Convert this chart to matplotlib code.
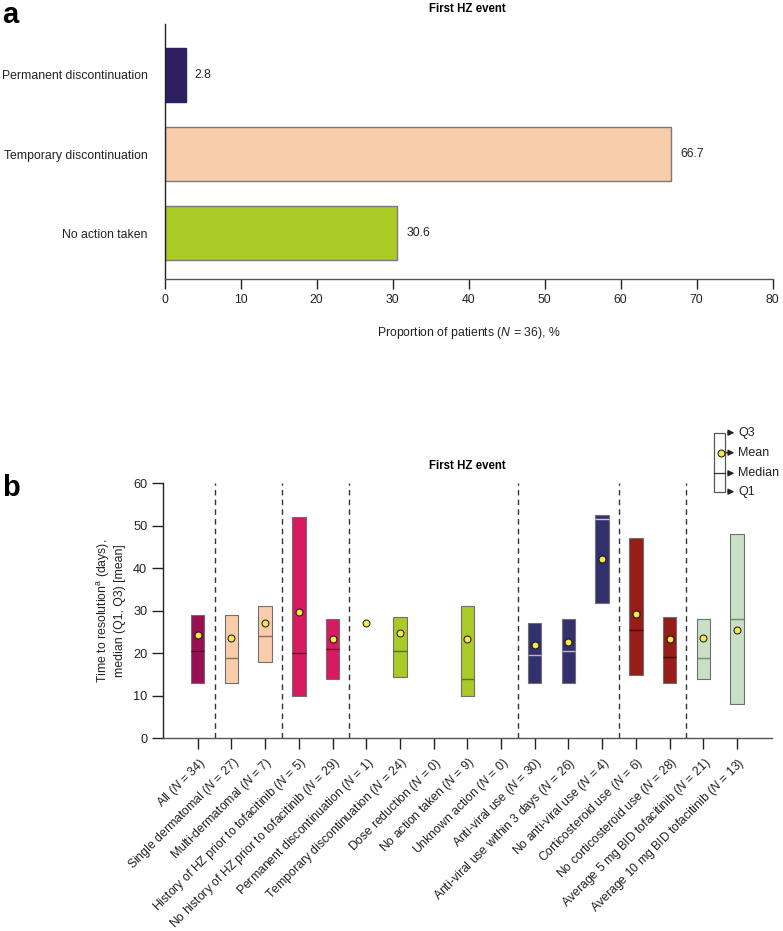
import numpy as np
import matplotlib
matplotlib.use("Agg")
import matplotlib.pyplot as plt

plt.rcParams['font.family'] = ['Liberation Sans', 'DejaVu Sans']
plt.rcParams['mathtext.fontset'] = 'custom'
plt.rcParams['mathtext.rm'] = 'Liberation Sans'
plt.rcParams['mathtext.it'] = 'Liberation Sans:italic'
plt.rcParams['axes.linewidth'] = 1.0

FS = 8.8

# ---- panel a data
action_labels = ['Permanent discontinuation', 'Temporary discontinuation', 'No action taken']
action_pct = [2.8, 66.7, 30.6]
action_colors = ['#2E1F62', '#F8CDAB', '#AACB25']
action_edges = ['#2E1F62', '#7a7a7a', '#7a7a7a']

# ---- panel b data
groups = ['All (N = 34)', 'Single dermatomal (N = 27)', 'Multi-dermatomal (N = 7)',
          'History of HZ prior to tofacitinib (N = 5)',
          'No history of HZ prior to tofacitinib (N = 29)',
          'Permanent discontinuation (N = 1)', 'Temporary discontinuation (N = 24)',
          'Dose reduction (N = 0)', 'No action taken (N = 9)', 'Unknown action (N = 0)',
          'Anti-viral use (N = 30)', 'Anti-viral use within 3 days (N = 26)',
          'No anti-viral use (N = 4)', 'Corticosteroid use (N = 6)',
          'No corticosteroid use (N = 28)', 'Average 5 mg BID tofacitinib (N = 21)',
          'Average 10 mg BID tofacitinib (N = 13)']
nan = np.nan
q1 = [13, 13, 18, 10, 14, nan, 14.4, nan, 10, nan, 13, 13, 31.8, 14.8, 13, 14, 8]
q3 = [29, 29, 31, 52, 28, nan, 28.5, nan, 31, nan, 27, 28, 52.5, 47, 28.5, 28, 48]
med = [20.5, 19, 24, 20, 21, nan, 20.5, nan, 14, nan, 19.5, 20.5, 51.6, 25.5, 19.2, 19, 28]
mean = [24.3, 23.7, 27, 29.6, 23.4, 27, 24.7, nan, 23.3, nan, 22, 22.7, 42.2, 29.2, 23.3, 23.7, 25.5]
box_colors = ['#990F52', '#F9CDAC', '#F9CDAC', '#D81A62', '#D81A62', '#ABC927', '#ABC927',
              '#ABC927', '#ABC927', '#ABC927', '#33306E', '#33306E', '#33306E',
              '#981C17', '#981C17', '#C8E0C5', '#C8E0C5']
med_colors = ['#4d0028', '#8a6f60', '#8a6f60', '#6a0a30', '#6a0a30', '#5f7214', '#5f7214',
              '#5f7214', '#5f7214', '#5f7214', '#b8b8d0', '#b8b8d0', '#c8c8dc',
              '#4a0a08', '#4a0a08', '#6f8c6c', '#6f8c6c']
separators = [0.5, 2.5, 4.5, 9.5, 12.5, 14.5]


def tex_n(s):
    return s.replace('(N =', r'($\it{N}$ =')


fig = plt.figure(figsize=(7.83, 9.31), dpi=100)

# ---------------- panel a
ax1 = fig.add_axes([0.2101, 0.700, 0.7765, 0.2742])
ypos = np.arange(len(action_labels))
ax1.barh(ypos, action_pct, height=0.68, color=action_colors, edgecolor=action_edges, linewidth=1.0)
for y, v in zip(ypos, action_pct):
    ax1.text(v + 1.2, y, f'{v:.1f}', va='center', ha='left', fontsize=FS, color='#222222')
ax1.set_ylim(2.58, -0.64)
ax1.set_xlim(0, 80)
ax1.set_xticks(np.arange(0, 81, 10))
ax1.set_yticks(ypos)
ax1.set_yticklabels(action_labels, fontsize=FS, color='#222222')
ax1.tick_params(axis='y', length=0, pad=12)
ax1.tick_params(axis='x', length=7, width=1.0, labelsize=FS, colors='#222222', direction='out')
for s in ['top', 'right']:
    ax1.spines[s].set_visible(False)
ax1.spines['left'].set_color('#222222')
ax1.spines['bottom'].set_color('#555555')
ax1.set_xlabel('Proportion of patients ($\\it{N}$ = 36), %', fontsize=FS, color='#222222', labelpad=14)
fig.text(467.5 / 783, 1 - 9 / 931, 'First HZ event', ha='center', va='center', fontsize=8.3, fontweight='bold')
fig.text(2 / 783, 1 - 15 / 931, 'a', ha='left', va='center', fontsize=21, fontweight='bold')

# ---------------- panel b
ax2 = fig.add_axes([0.2086, 0.2070, 0.7774, 0.2740])
x = np.arange(len(groups))
w = 0.4
q1a = np.array(q1, dtype=float)
q3a = np.array(q3, dtype=float)
ok = ~np.isnan(q1a)
ax2.bar(x[ok], (q3a - q1a)[ok], bottom=q1a[ok], width=w,
        color=[c for c, o in zip(box_colors, ok) if o], edgecolor='#6f6f6f', linewidth=0.8, zorder=2)
for xi, m, c in zip(x, med, med_colors):
    if not np.isnan(m):
        ax2.hlines(m, xi - w / 2, xi + w / 2, color=c, linewidth=1.0, zorder=3)
ax2.plot(x, mean, 'o', markersize=5, markerfacecolor='#F7E748', markeredgecolor='#111111',
         markeredgewidth=0.7, linestyle='none', zorder=4)
for s in separators:
    ax2.axvline(s, ymin=0, ymax=1.0, color='#333333', linewidth=1.0, linestyle=(0, (4, 3)), zorder=1)
ax2.set_xlim(-1.02, 17.04)
ax2.set_ylim(0, 60)
ax2.set_yticks(np.arange(0, 61, 10))
ax2.set_xticks(x)
ax2.set_xticklabels([tex_n(g) for g in groups], rotation=45, ha='right', rotation_mode='anchor',
                    fontsize=FS, color='#222222')
ax2.tick_params(axis='both', length=8, width=1.0, labelsize=FS + 0.4, colors='#222222', direction='out')
ax2.tick_params(axis='x', pad=4, labelsize=FS)
for s in ['top', 'right']:
    ax2.spines[s].set_visible(False)
ax2.spines['left'].set_color('#222222')
ax2.spines['bottom'].set_color('#555555')
ax2.set_ylabel('Time to resolution$^{\\mathrm{a}}$ (days),\nmedian (Q1, Q3) [mean]', fontsize=FS,
               color='#222222', linespacing=1.3)
ax2.yaxis.set_label_coords(-0.061, 0.5)
fig.text(467.5 / 783, 1 - 466 / 931, 'First HZ event', ha='center', va='center', fontsize=8.3, fontweight='bold')
fig.text(2 / 783, 1 - 488 / 931, 'b', ha='left', va='center', fontsize=21, fontweight='bold')

# ---------------- key for panel b
key = fig.add_axes([0, 0, 1, 1])
key.set_xlim(0, 783)
key.set_ylim(931, 0)
key.axis('off')
bx0, bx1, by0, by1, bmed = 714.3, 725.0, 432.7, 491.7, 473.3
key.add_patch(plt.Rectangle((bx0, by0), bx1 - bx0, by1 - by0, fill=False, edgecolor='#555555', linewidth=0.9))
key.plot([bx0, bx1], [bmed, bmed], color='#333333', linewidth=0.9)
key.plot([721], [452.7], 'o', markersize=5, markerfacecolor='#F7E748', markeredgecolor='#111111',
         markeredgewidth=0.7)
arrow_kw = dict(arrowstyle='-|>,head_length=0.35,head_width=0.18', color='#222222', lw=0.9)
key_rows = [('Q3', by0, bx1), ('Mean', 452.7, 723.5), ('Median', bmed, bx1), ('Q1', by1, bx1)]
for lab, yy, xs in key_rows:
    key.annotate('', xy=(737, yy), xytext=(xs, yy), arrowprops=arrow_kw)
    key.text(738, yy, lab, ha='left', va='center', fontsize=FS + 0.2, color='#222222')

fig.savefig('out.png', dpi=100)
